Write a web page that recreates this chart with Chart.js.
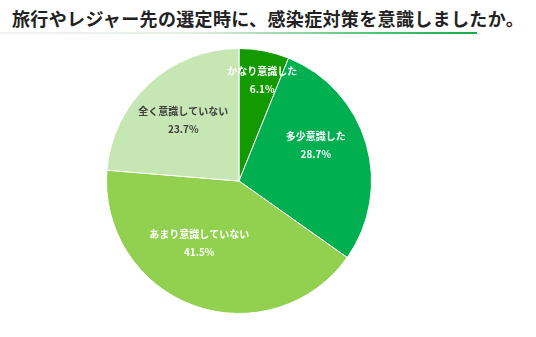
<!DOCTYPE html>
<html lang="ja">
<head>
<meta charset="utf-8">
<script src="https://cdn.jsdelivr.net/npm/chart.js@4.4.0/dist/chart.umd.min.js"></script>
<style>
    html, body { margin: 0; padding: 0; background: #fff; }
    .wrap { position: relative; width: 536px; height: 337px; overflow: hidden; }
    .title {
        position: absolute; left: 12px; top: 6px;
        font-family: "Noto Sans CJK JP", sans-serif; font-weight: 700;
        font-size: 18px; line-height: 24px; letter-spacing: 0.35px;
        color: #222; white-space: nowrap;
    }
    .rule {
        position: absolute; left: 0; top: 32px; width: 477px; height: 2px;
        background: linear-gradient(to right, #f2f2f2 0%, #e4efe4 40%, #4cc36f 80%, #1aa84a 100%);
    }
    canvas { position: absolute; left: 0; top: 0; }
</style>
</head>
<body>
<div class="wrap">
    <div class="title">旅行やレジャー先の選定時に、感染症対策を意識しましたか。</div>
    <div class="rule"></div>
    <canvas id="pie" width="536" height="337"></canvas>
</div>
<script>
const categories = ["かなり意識した", "多少意識した", "あまり意識していない", "全く意識していない"];
const shares = [6.1, 28.7, 41.5, 23.7];
const sliceColors = ["#139a00", "#00b050", "#92d050", "#c6e7b3"];
const labelColors = ["#ffffff", "#ffffff", "#ffffff", "#404040"];

// label placement per slice: fraction of radius and angular nudge (deg)
const labelRadius = [0.78, 0.64, 0.555, 0.62];
const labelNudge = [2, -8.7, 12.8, 0];

const sliceLabels = {
    id: "sliceLabels",
    afterDatasetsDraw(chart) {
        const { ctx } = chart;
        const meta = chart.getDatasetMeta(0);
        ctx.save();
        ctx.textAlign = "center";
        ctx.textBaseline = "middle";
        ctx.font = "bold 10px 'Noto Sans CJK JP', sans-serif";
        meta.data.forEach((arc, i) => {
            const p = arc.getProps(["x", "y", "startAngle", "endAngle", "outerRadius"], true);
            const mid = (p.startAngle + p.endAngle) / 2 + labelNudge[i] * Math.PI / 180;
            const r = p.outerRadius * labelRadius[i];
            const x = p.x + Math.cos(mid) * r;
            const y = p.y + Math.sin(mid) * r;
            ctx.fillStyle = labelColors[i];
            ctx.fillText(categories[i], x, y - 9);
            ctx.fillText(shares[i].toFixed(1) + "%", x, y + 9);
        });
        ctx.restore();
    },
};

new Chart(document.getElementById("pie"), {
    type: "pie",
    data: {
        labels: categories,
        datasets: [
            {
                data: shares,
                backgroundColor: sliceColors,
                borderColor: "#ffffff",
                borderWidth: 1,
            },
        ],
    },
    options: {
        responsive: false,
        animation: false,
        layout: { padding: { top: 48, bottom: 23, left: 106, right: 164 } },
        plugins: {
            legend: { display: false },
            tooltip: { enabled: false },
        },
    },
    plugins: [sliceLabels],
});
</script>
</body>
</html>
